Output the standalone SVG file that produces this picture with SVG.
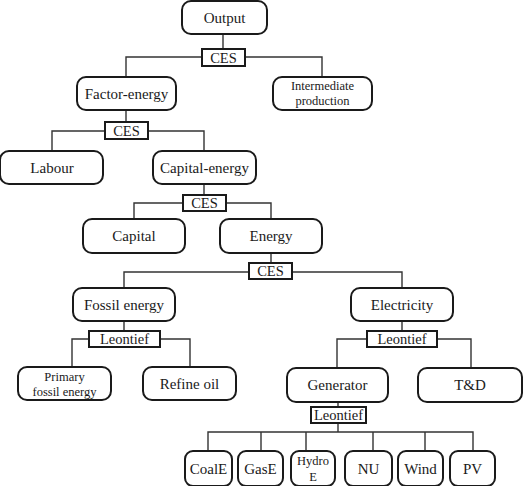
<svg xmlns="http://www.w3.org/2000/svg" width="526" height="486" viewBox="0 0 526 486">
<style>
.n{fill:#fff;stroke:#1a1a1a;stroke-width:2}
.op{fill:#fff;stroke:#1a1a1a;stroke-width:2}
.c{fill:none;stroke:#333;stroke-width:1.4}
text{fill:#1a1a1a;text-anchor:middle}
.t{font-size:15px}
.s{font-size:12.5px}
.o{font-size:14.5px}
</style>
<rect width="526" height="486" fill="#fff"/>
<g id="connectors">
<path class="c" d="M223,34V49"/>
<path class="c" d="M126,77V57H322V77"/>
<path class="c" d="M126,110V122"/>
<path class="c" d="M52,151V131H204V151"/>
<path class="c" d="M204,184V195"/>
<path class="c" d="M134,219V203H271V219"/>
<path class="c" d="M271,252V263"/>
<path class="c" d="M124,288V272H402V288"/>
<path class="c" d="M124,321V331"/>
<path class="c" d="M72,367V339H190V367"/>
<path class="c" d="M402,321V331"/>
<path class="c" d="M337,368V339H471V368"/>
<path class="c" d="M338,402V407"/>
<path class="c" d="M338,423V432"/>
<path class="c" d="M208,451V432H473V451M261,432V451M306,432V451M373,432V451M425,432V451"/>
</g>
<g font-family="'Liberation Serif', 'DejaVu Serif', serif">
<g id="output"><rect class="n" x="182" y="1" width="85" height="33" rx="9"/><text class="t" x="224.5" y="22.5">Output</text></g>
<g id="ces1"><rect class="op" x="202" y="49" width="43" height="17"/><text class="o" x="223.5" y="62.5">CES</text></g>
<g id="factor-energy"><rect class="n" x="77" y="77" width="99" height="33" rx="9"/><text class="t" x="126.5" y="98.5">Factor-energy</text></g>
<g id="intermediate"><rect class="n" x="273" y="77" width="99" height="33" rx="9"/><text class="s" x="322.5" y="90">Intermediate</text><text class="s" x="322.5" y="105">production</text></g>
<g id="ces2"><rect class="op" x="105" y="122" width="43" height="17"/><text class="o" x="126.5" y="135.5">CES</text></g>
<g id="labour"><rect class="n" x="0" y="151" width="103" height="33" rx="9"/><text class="t" x="52" y="172.5">Labour</text></g>
<g id="capital-energy"><rect class="n" x="153" y="151" width="103" height="33" rx="9"/><text class="t" x="204.5" y="172.5">Capital-energy</text></g>
<g id="ces3"><rect class="op" x="183" y="195" width="43" height="16"/><text class="o" x="204.5" y="208">CES</text></g>
<g id="capital"><rect class="n" x="83" y="219" width="102" height="34" rx="9"/><text class="t" x="134" y="241">Capital</text></g>
<g id="energy"><rect class="n" x="220" y="219" width="102" height="34" rx="9"/><text class="t" x="271" y="241">Energy</text></g>
<g id="ces4"><rect class="op" x="249" y="263" width="43" height="16"/><text class="o" x="270.5" y="276">CES</text></g>
<g id="fossil-energy"><rect class="n" x="73" y="288" width="102" height="33" rx="9"/><text class="t" x="124" y="309.5">Fossil energy</text></g>
<g id="electricity"><rect class="n" x="351" y="288" width="102" height="33" rx="9"/><text class="t" x="402" y="309.5">Electricity</text></g>
<g id="leontief1"><rect class="op" x="89" y="331" width="71" height="16"/><text class="o" x="124.5" y="344">Leontief</text></g>
<g id="leontief2"><rect class="op" x="367" y="331" width="70" height="16"/><text class="o" x="402" y="344">Leontief</text></g>
<g id="primary-fossil"><rect class="n" x="18" y="367" width="93" height="33" rx="9"/><text class="s" x="64.5" y="381">Primary</text><text class="s" x="64.5" y="396">fossil energy</text></g>
<g id="refine-oil"><rect class="n" x="143" y="367" width="93" height="33" rx="9"/><text class="t" x="189.5" y="388.5">Refine oil</text></g>
<g id="generator"><rect class="n" x="287" y="368" width="101" height="34" rx="9"/><text class="t" x="337.5" y="390">Generator</text></g>
<g id="td"><rect class="n" x="418" y="368" width="104" height="34" rx="9"/><text class="t" x="470" y="390">T&amp;D</text></g>
<g id="leontief3"><rect class="op" x="311" y="407" width="55" height="16"/><text class="o" x="338.5" y="420">Leontief</text></g>
<g id="coale"><rect class="n" x="185" y="451" width="47" height="35" rx="8"/><text class="t" x="208.5" y="474">CoalE</text></g>
<g id="gase"><rect class="n" x="238" y="451" width="45" height="35" rx="8"/><text class="t" x="260.5" y="474">GasE</text></g>
<g id="hydroe"><rect class="n" x="291" y="451" width="44" height="35" rx="8"/><text class="s" x="313" y="465">Hydro</text><text class="s" x="313" y="481">E</text></g>
<g id="nu"><rect class="n" x="345" y="451" width="47" height="35" rx="8"/><text class="t" x="368.5" y="474">NU</text></g>
<g id="wind"><rect class="n" x="398" y="451" width="45" height="35" rx="8"/><text class="t" x="420.5" y="474">Wind</text></g>
<g id="pv"><rect class="n" x="450" y="451" width="45" height="35" rx="8"/><text class="t" x="472.5" y="474">PV</text></g>
</g>
</svg>
